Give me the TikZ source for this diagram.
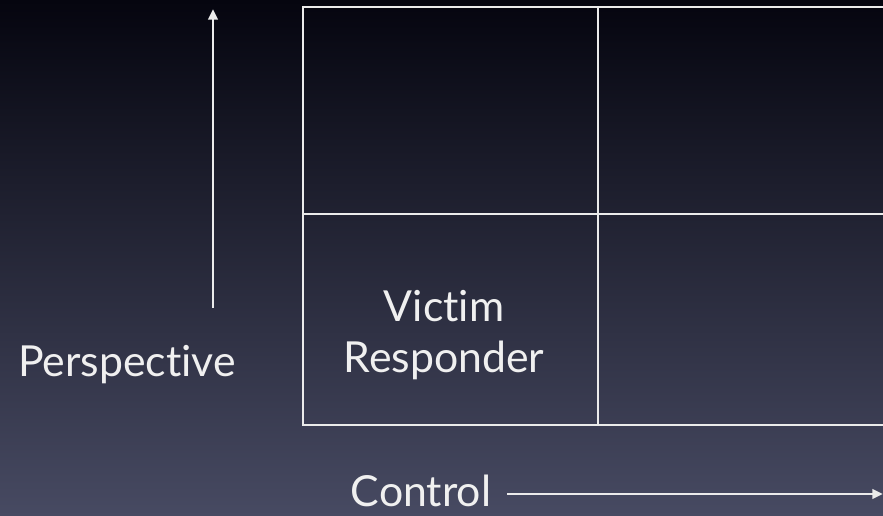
\documentclass[tikz,border=0pt]{standalone}
\usepackage{fontspec}
\setmainfont{Lato}[Ligatures={NoCommon}]
\usetikzlibrary{arrows.meta,positioning}

\definecolor{slidetop}{HTML}{05050F}
\definecolor{slidebottom}{HTML}{474A62}

\begin{document}
\begin{tikzpicture}[
    x=0.03cm, y=-0.03cm,
    gridline/.style = {draw=white!92!black, line width=2.4pt},
    axis/.style     = {draw=white!92!black, line width=2.4pt,
                       -{Triangle[length=9pt,width=8pt]}},
    lbl/.style      = {text=white!94!black, inner sep=0pt, align=center,
                       font=\fontsize{36.5}{44}\selectfont}
]

% background
\shade[top color=slidetop, bottom color=slidebottom]
    (0,0) rectangle (883,516);
\useasboundingbox (0,0) rectangle (883,516);

% grid corners
\coordinate (tl) at (303,7);
\coordinate (tm) at (598,7);
\coordinate (tr) at (890,7);
\coordinate (ml) at (303,214);
\coordinate (mr) at (890,214);
\coordinate (bl) at (303,425);
\coordinate (bm) at (598,425);
\coordinate (br) at (890,425);

% grid
\draw[gridline] (tr) -- (tl) -- (bl) -- (br);
\draw[gridline] (tm) -- (bm);
\draw[gridline] (ml) -- (mr);

% labels
\node[lbl] (cell)  at (444,335) {Victim\\Responder};
\node[lbl, anchor=base] (persp) at (127,377) {Perspective};
\node[lbl, anchor=base] (ctrl)  at (421,507) {Control};

% axes
\coordinate (upend)    at (213,9);
\coordinate (rightend) at (883,494);
\draw[axis] (213,308) -- (upend);
\draw[axis] (ctrl.east |- rightend) ++(16,0) coordinate (ctrlstart) -- (rightend);

\end{tikzpicture}
\end{document}
